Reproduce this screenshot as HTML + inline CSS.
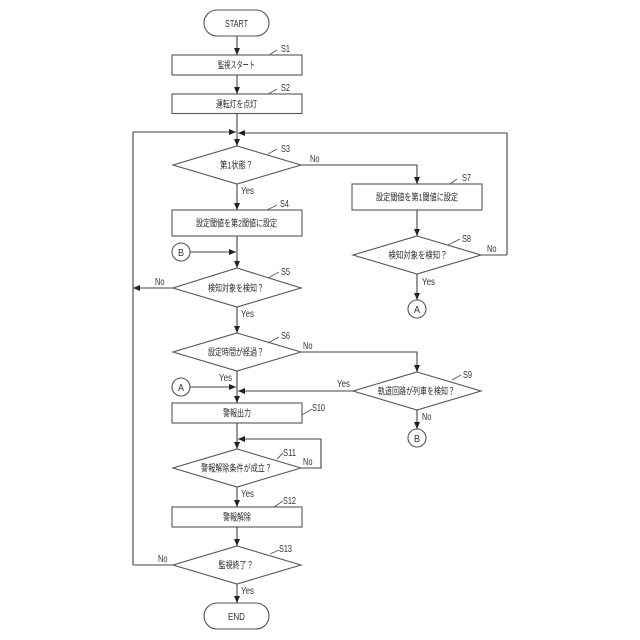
<!DOCTYPE html>
<html><head><meta charset="utf-8">
<style>
html,body{margin:0;padding:0;background:#fff}
svg{display:block}
text{font-family:"Liberation Sans","Noto Sans CJK JP",sans-serif;font-size:10.500px;fill:#333}
.c{text-anchor:middle}
.j{font-size:9.500px;fill:#2a2a2a}
</style></head><body>
<svg width="640" height="640" viewBox="0 0 640 640" xmlns="http://www.w3.org/2000/svg">
<defs>
<marker id="a" markerWidth="7" markerHeight="6" refX="7" refY="3" orient="auto" markerUnits="userSpaceOnUse"><path d="M0 0L7 3L0 6Z" fill="#222"/></marker>
</defs>
<g fill="none" stroke="#555" stroke-width="1.1">
<rect x="204" y="10" width="65" height="26" rx="13"/>
<rect x="172" y="55" width="130" height="20"/>
<rect x="172" y="94" width="130" height="19.500"/>
<polygon points="237,146 301,165 237,184 173,165"/>
<rect x="172" y="210" width="130" height="26"/>
<circle cx="181" cy="252" r="9"/>
<polygon points="237,268 301,288 237,307 173,288"/>
<polygon points="237,333 301,352 237,371 173,352"/>
<circle cx="181" cy="387" r="9"/>
<rect x="172" y="403" width="130" height="20"/>
<polygon points="237,449 301,468 237,487 173,468"/>
<rect x="172" y="507" width="130" height="20"/>
<polygon points="237,546 301,565 237,584 173,565"/>
<rect x="204" y="603" width="65" height="26" rx="13"/>
<rect x="352" y="184" width="130" height="26"/>
<polygon points="417,236 481,255 417,274 353,255"/>
<circle cx="417" cy="309" r="9"/>
<polygon points="417,372 481,391 417,410 353,391"/>
<circle cx="417" cy="438" r="9"/>
</g>
<g fill="none" stroke="#444" stroke-width="1.1">
<path d="M237 36V55" marker-end="url(#a)"/>
<path d="M237 75V94" marker-end="url(#a)"/>
<path d="M237 113V146" marker-end="url(#a)"/>
<path d="M133 565V132H236" marker-end="url(#a)"/>
<path d="M507 255V133H238" marker-end="url(#a)"/>
<path d="M481 255H507"/>
<path d="M173 565H133"/>
<path d="M237 184V210" marker-end="url(#a)"/>
<path d="M237 236V268" marker-end="url(#a)"/>
<path d="M190 252H236" marker-end="url(#a)"/>
<path d="M173 288H133" marker-end="url(#a)"/>
<path d="M237 307V333" marker-end="url(#a)"/>
<path d="M237 371V403" marker-end="url(#a)"/>
<path d="M190 387H236" marker-end="url(#a)"/>
<path d="M353 391H238" marker-end="url(#a)"/>
<path d="M237 423V449" marker-end="url(#a)"/>
<path d="M301 468H321V439H238" marker-end="url(#a)"/>
<path d="M237 487V507" marker-end="url(#a)"/>
<path d="M237 527V546" marker-end="url(#a)"/>
<path d="M237 584V603" marker-end="url(#a)"/>
<path d="M301 165H417V184" marker-end="url(#a)"/>
<path d="M417 210V236" marker-end="url(#a)"/>
<path d="M417 274V300" marker-end="url(#a)"/>
<path d="M301 352H417V372" marker-end="url(#a)"/>
<path d="M417 410V429" marker-end="url(#a)"/>
</g>
<g fill="none" stroke="#555" stroke-width="0.9">
<path d="M269 55L277 50"/><path d="M268 94L277 89"/><path d="M268 154L277 149"/>
<path d="M267 210L277 205"/><path d="M268 278L279 272"/><path d="M268 343L279 337"/>
<path d="M302 415L312 409"/><path d="M277 459L283 453"/><path d="M274 507L283 501"/>
<path d="M270 554L279 550"/><path d="M450 184L457 179"/><path d="M448 245L460 239"/>
<path d="M452 380L461 375"/>
</g>
<text class="c" x="236.500" y="27" textLength="23" lengthAdjust="spacingAndGlyphs">START</text>
<text class="c j" x="236.500" y="68.500" textLength="37" lengthAdjust="spacingAndGlyphs">監視スタート</text>
<text class="c j" x="236.500" y="107.500" textLength="41" lengthAdjust="spacingAndGlyphs">運転灯を点灯</text>
<text class="c j" x="236.500" y="168.500" textLength="33" lengthAdjust="spacingAndGlyphs">第1状態？</text>
<text class="c j" x="236.500" y="226.500" textLength="81" lengthAdjust="spacingAndGlyphs">設定閾値を第2閾値に設定</text>
<text class="c j" x="236" y="291.500" textLength="56" lengthAdjust="spacingAndGlyphs">検知対象を検知？</text>
<text class="c j" x="236" y="355.500" textLength="56" lengthAdjust="spacingAndGlyphs">設定時間が経過？</text>
<text class="c j" x="237" y="416.500" textLength="28" lengthAdjust="spacingAndGlyphs">警報出力</text>
<text class="c j" x="236.500" y="471.500" textLength="71" lengthAdjust="spacingAndGlyphs">警報解除条件が成立？</text>
<text class="c j" x="237" y="520.500" textLength="28" lengthAdjust="spacingAndGlyphs">警報解除</text>
<text class="c j" x="236" y="568.500" textLength="35" lengthAdjust="spacingAndGlyphs">監視終了？</text>
<text class="c" x="236.500" y="620" textLength="17" lengthAdjust="spacingAndGlyphs">END</text>
<text class="c j" x="417" y="200.500" textLength="82" lengthAdjust="spacingAndGlyphs">設定閾値を第1閾値に設定</text>
<text class="c j" x="418" y="258.500" textLength="59" lengthAdjust="spacingAndGlyphs">検知対象を検知？</text>
<text class="c j" x="416.500" y="394.500" textLength="77" lengthAdjust="spacingAndGlyphs">軌道回路が列車を検知？</text>
<text class="c" x="181" y="256" textLength="6" lengthAdjust="spacingAndGlyphs">B</text>
<text class="c" x="181" y="391" textLength="6" lengthAdjust="spacingAndGlyphs">A</text>
<text class="c" x="417" y="313" textLength="6" lengthAdjust="spacingAndGlyphs">A</text>
<text class="c" x="417" y="442" textLength="6" lengthAdjust="spacingAndGlyphs">B</text>
<g lengthAdjust="spacingAndGlyphs">
<text x="281" y="52" textLength="9" lengthAdjust="spacingAndGlyphs">S1</text>
<text x="281" y="91" textLength="9" lengthAdjust="spacingAndGlyphs">S2</text>
<text x="281" y="152" textLength="9" lengthAdjust="spacingAndGlyphs">S3</text>
<text x="280" y="207" textLength="9" lengthAdjust="spacingAndGlyphs">S4</text>
<text x="281" y="275" textLength="9" lengthAdjust="spacingAndGlyphs">S5</text>
<text x="281" y="339" textLength="9" lengthAdjust="spacingAndGlyphs">S6</text>
<text x="312" y="411" textLength="13" lengthAdjust="spacingAndGlyphs">S10</text>
<text x="283" y="456" textLength="13" lengthAdjust="spacingAndGlyphs">S11</text>
<text x="283" y="504" textLength="13" lengthAdjust="spacingAndGlyphs">S12</text>
<text x="279" y="552" textLength="13" lengthAdjust="spacingAndGlyphs">S13</text>
<text x="462" y="181" textLength="9" lengthAdjust="spacingAndGlyphs">S7</text>
<text x="462" y="242" textLength="9" lengthAdjust="spacingAndGlyphs">S8</text>
<text x="463" y="378" textLength="9" lengthAdjust="spacingAndGlyphs">S9</text>
<text x="310" y="162" textLength="9.500" lengthAdjust="spacingAndGlyphs">No</text>
<text x="241" y="194" textLength="13" lengthAdjust="spacingAndGlyphs">Yes</text>
<text x="155" y="285" textLength="9.500" lengthAdjust="spacingAndGlyphs">No</text>
<text x="241" y="317" textLength="13" lengthAdjust="spacingAndGlyphs">Yes</text>
<text x="303" y="349" textLength="9.500" lengthAdjust="spacingAndGlyphs">No</text>
<text x="219" y="381" textLength="13" lengthAdjust="spacingAndGlyphs">Yes</text>
<text x="337" y="387" textLength="13" lengthAdjust="spacingAndGlyphs">Yes</text>
<text x="422" y="420" textLength="9.500" lengthAdjust="spacingAndGlyphs">No</text>
<text x="303" y="465" textLength="9.500" lengthAdjust="spacingAndGlyphs">No</text>
<text x="241" y="497" textLength="13" lengthAdjust="spacingAndGlyphs">Yes</text>
<text x="158" y="562" textLength="9.500" lengthAdjust="spacingAndGlyphs">No</text>
<text x="241" y="594" textLength="13" lengthAdjust="spacingAndGlyphs">Yes</text>
<text x="487" y="252" textLength="9.500" lengthAdjust="spacingAndGlyphs">No</text>
<text x="422" y="285" textLength="13" lengthAdjust="spacingAndGlyphs">Yes</text>
</g>
</svg>
</body></html>
